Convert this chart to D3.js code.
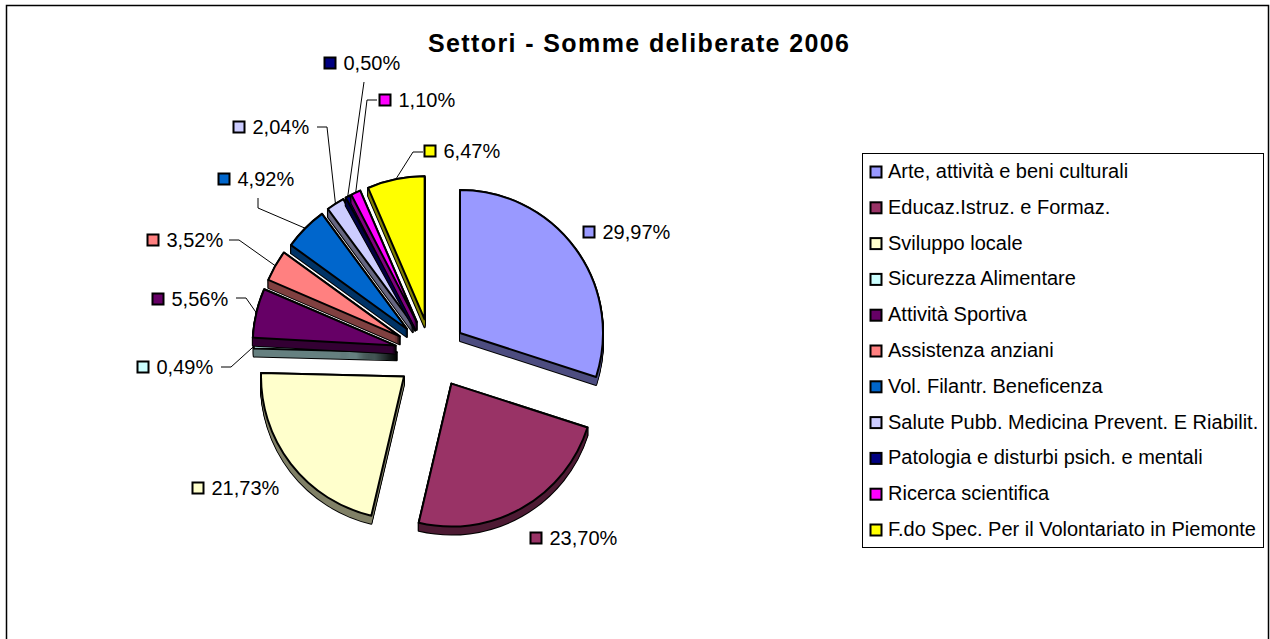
<!DOCTYPE html>
<html><head><meta charset="utf-8">
<script src="https://cdn.jsdelivr.net/npm/d3@7"></script>
<style>html,body{margin:0;padding:0;background:#fff;overflow:hidden}svg{display:block}text{font-family:"Liberation Sans",Arial,sans-serif;fill:#000}</style>
</head><body><svg id="c" width="1270" height="639"></svg>
<script>
const title = "Settori - Somme deliberate 2006";
const categories = ["Arte, attività e beni culturali","Educaz.Istruz. e Formaz.","Sviluppo locale","Sicurezza Alimentare","Attività Sportiva","Assistenza anziani","Vol. Filantr. Beneficenza","Salute Pubb. Medicina Prevent. E Riabilit.","Patologia e disturbi psich. e mentali","Ricerca scientifica","F.do Spec. Per il Volontariato in Piemonte"];
const values = [29.97,23.70,21.73,0.49,5.56,3.52,4.92,2.04,0.50,1.10,6.47];
const colors = ["#9999FF","#993366","#FFFFCC","#CCFFFF","#660066","#FF8080","#0066CC","#CCCCFF","#000080","#FF00FF","#FFFF00"];
// label layout: swatch centre, then leader start and elbow (null = no leader)
const labelSwatch = [[589,232],[536,538],[198,488],[143,367],[158,299],[153,240],[224,179],[239,127],[330,63],[385,100],[430,151]];
const labelLeader = [null,null,null,[[221,367],[231,367]],[[236,298],[246,298]],[[229,240],[239,240]],[[258,198],[258,208]],[[317,127],[327,127]],[[364,82],[364,82]],[[377,100],[367,100]],[[423,152],[413,152]]];
// small per-slice layout corrections, in pixels
const sliceNudge = [[0,0],[2.5,-0.5],[0,1.5],[0,0],[-2,0],[-1.5,0],[0,0],[0,0],[0,0],[0,0],[0,0]];

const cx=431.7, cy=353.6, R=143, explode=35, depth=8;
const svg=d3.select("#c");
const fmt=d3.formatLocale({decimal:",",thousands:".",grouping:[3],currency:["","€"]}).format(".2f");

svg.append("rect").attr("x",6.5).attr("y",5.5).attr("width",1262).attr("height",640).attr("fill","#fff").attr("stroke","#000").attr("stroke-width",1.5);
svg.append("text").attr("x",428).attr("y",52).attr("font-size",25).attr("font-weight","bold").attr("textLength",421).attr("lengthAdjust","spacing").text(title);

const arcs=d3.pie().sort(null).value(d=>d)(values);
const arc=d3.arc().innerRadius(0).outerRadius(R);
const off=(a,i)=>{const m=(a.startAngle+a.endAngle)/2;return [cx+explode*Math.sin(m)+sliceNudge[i][0],cy-explode*Math.cos(m)+sliceNudge[i][1]];};
const pie=svg.append("g");
arcs.forEach((a,i)=>{
  const [x,y]=off(a,i), g=pie.append("g").attr("transform",`translate(${x},${y})`), steps=d3.range(depth+1);
  const wall=d3.interpolateRgb(colors[i],"#000")(0.5);
  g.selectAll("path.o").data(steps).join("path").attr("class","o").attr("d",arc(a)).attr("transform",d=>`translate(0,${d})`).attr("fill","#000").attr("stroke","#000").attr("stroke-width",2).attr("stroke-linejoin","round");
  g.selectAll("path.w").data(steps).join("path").attr("class","w").attr("d",arc(a)).attr("transform",d=>`translate(0,${d})`).attr("fill",wall);
  g.append("path").attr("d",arc(a)).attr("fill",colors[i]).attr("stroke","#000").attr("stroke-width",2).attr("stroke-linejoin","round");
});
// leaders run from the layout points to the slice's outer rim
const line=d3.line();
arcs.forEach((a,i)=>{
  const L=labelLeader[i]; if(!L) return;
  const [x,y]=off(a,i), m=(a.startAngle+a.endAngle)/2;
  svg.append("path").attr("d",line([L[0],L[1],[x+R*Math.sin(m),y-R*Math.cos(m)]])).attr("fill","none").attr("stroke","#000").attr("stroke-width",1);
});
const swatch=(sel,x,y,c)=>sel.append("rect").attr("x",x-5.5).attr("y",y-5.5).attr("width",11).attr("height",11).attr("fill",c).attr("stroke","#000").attr("stroke-width",2);
arcs.forEach((a,i)=>{
  const [x,y]=labelSwatch[i];
  swatch(svg,x,y,colors[i]);
  svg.append("text").attr("x",x+13.5).attr("y",y+6.5).attr("font-size",20).text(fmt(values[i])+"%");
});
// legend
svg.append("rect").attr("x",862.5).attr("y",153.5).attr("width",401).attr("height",394).attr("fill","#fff").attr("stroke","#000").attr("stroke-width",1);
const rowY=d3.scalePoint().domain(categories).range([172,530]);
categories.forEach((c,i)=>{
  swatch(svg,876,rowY(c),colors[i]);
  svg.append("text").attr("x",888).attr("y",rowY(c)+6).attr("font-size",20).text(c);
});
</script></body></html>
